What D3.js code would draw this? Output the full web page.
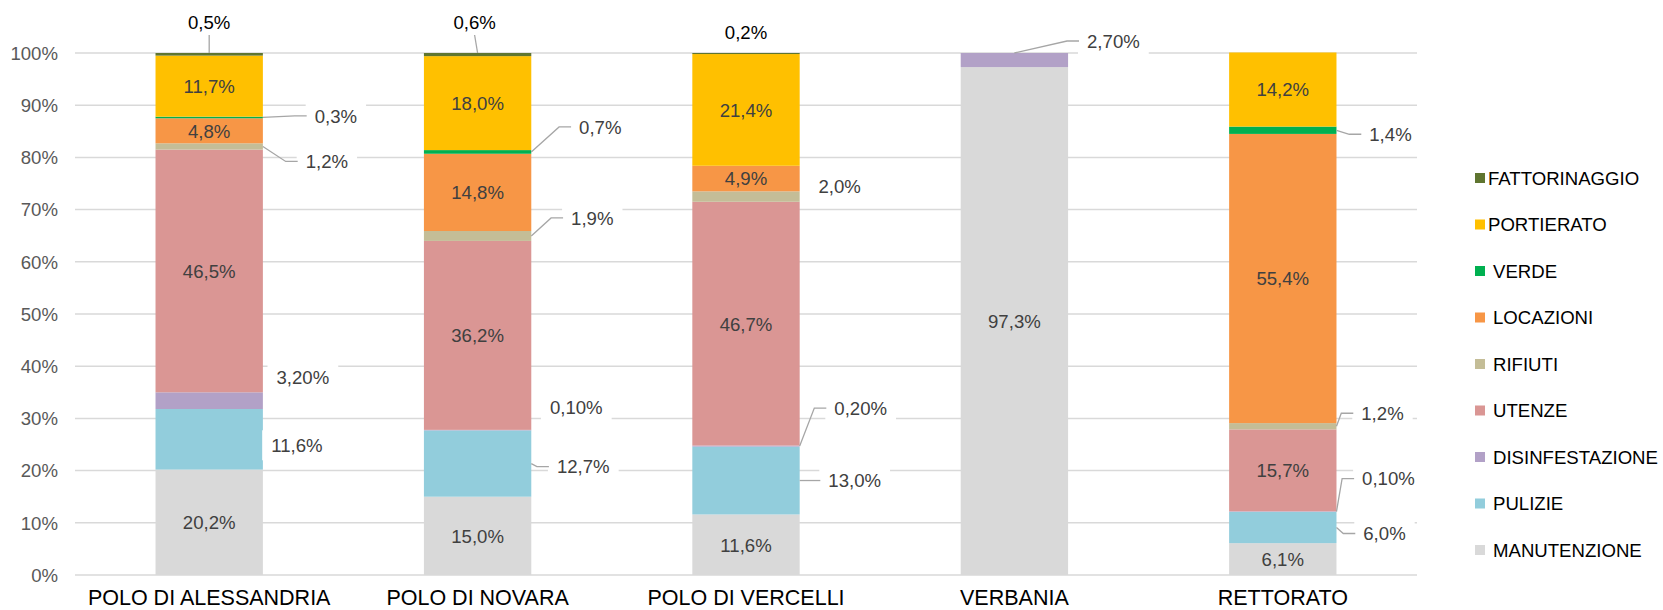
<!DOCTYPE html>
<html>
<head>
<meta charset="utf-8">
<script src="https://cdn.jsdelivr.net/npm/d3@7"></script>
<style>
  body { margin: 0; background: #fff; }
  svg { display: block; font-family: "Liberation Sans", Arial, sans-serif; }
</style>
</head>
<body>
<svg id="chart" width="1663" height="610"></svg>
<script>
// dati (percentuali per sede)
var categories = ["POLO DI ALESSANDRIA", "POLO DI NOVARA", "POLO DI VERCELLI", "VERBANIA", "RETTORATO"];
var series = ["MANUTENZIONE", "PULIZIE", "DISINFESTAZIONE", "UTENZE", "RIFIUTI", "LOCAZIONI", "VERDE", "PORTIERATO", "FATTORINAGGIO"];
var manutenzione    = [20.2, 15.0, 11.6, 97.3, 6.1];
var pulizie         = [11.6, 12.7, 13.0, 0,    6.0];
var disinfestazione = [3.2,  0.1,  0.2,  2.7,  0.1];
var utenze          = [46.5, 36.2, 46.7, 0,    15.7];
var rifiuti         = [1.2,  1.9,  2.0,  0,    1.2];
var locazioni       = [4.8,  14.8, 4.9,  0,    55.4];
var verde           = [0.3,  0.7,  0,    0,    1.4];
var portierato      = [11.7, 18.0, 21.4, 0,    14.2];
var fattorinaggio   = [0.5,  0.6,  0.2,  0,    0];
var yTicks = [0, 10, 20, 30, 40, 50, 60, 70, 80, 90, 100];

var colors = {
	MANUTENZIONE: "#d9d9d9", PULIZIE: "#92cddc", DISINFESTAZIONE: "#b2a1c7",
	UTENZE: "#da9694", RIFIUTI: "#c4bd97", LOCAZIONI: "#f79646",
	VERDE: "#00b050", PORTIERATO: "#ffc000", FATTORINAGGIO: "#5f7530"
};

// etichette esterne: spostamento del testo rispetto al punto di aggancio
var callouts = [
	{cat: 0, key: "FATTORINAGGIO", at: "top", dx: 0, dy: -31, leader: true},
	{cat: 0, key: "VERDE", dx: 73, dy: -1.5, leader: true},
	{cat: 0, key: "RIFIUTI", dx: 64, dy: 15, leader: true},
	{cat: 0, key: "DISINFESTAZIONE", dx: 40, dy: -24, leader: false},
	{cat: 0, key: "PULIZIE", dx: 34, dy: 6, leader: false},
	{cat: 1, key: "FATTORINAGGIO", at: "top", dx: -3, dy: -31, leader: true},
	{cat: 1, key: "VERDE", dx: 69, dy: -25, leader: true},
	{cat: 1, key: "RIFIUTI", dx: 61, dy: -18, leader: true},
	{cat: 1, key: "DISINFESTAZIONE", dx: 45, dy: -23, leader: false},
	{cat: 1, key: "PULIZIE", dx: 52, dy: 3, leader: true},
	{cat: 2, key: "FATTORINAGGIO", at: "top", dx: 0, dy: -21, leader: false},
	{cat: 2, key: "RIFIUTI", dx: 40, dy: -10.5, leader: false},
	{cat: 2, key: "DISINFESTAZIONE", dx: 61, dy: -38, leader: true},
	{cat: 2, key: "PULIZIE", dx: 55, dy: 0, leader: true},
	{cat: 3, key: "DISINFESTAZIONE", at: "top", dx: 99, dy: -12, leader: true},
	{cat: 4, key: "VERDE", dx: 54, dy: 4, leader: true},
	{cat: 4, key: "RIFIUTI", dx: 46, dy: -13, leader: true},
	{cat: 4, key: "DISINFESTAZIONE", dx: 52, dy: -33, leader: true},
	{cat: 4, key: "PULIZIE", dx: 48, dy: 6, leader: true}
];
var outside = ["PULIZIE", "DISINFESTAZIONE", "RIFIUTI", "VERDE", "FATTORINAGGIO"];

var values = {
	MANUTENZIONE: manutenzione, PULIZIE: pulizie, DISINFESTAZIONE: disinfestazione,
	UTENZE: utenze, RIFIUTI: rifiuti, LOCAZIONI: locazioni, VERDE: verde,
	PORTIERATO: portierato, FATTORINAGGIO: fattorinaggio
};
var rows = categories.map(function (c, i) {
	var r = {cat: c};
	series.forEach(function (s) { r[s] = values[s][i]; });
	return r;
});

var it = d3.formatLocale({decimal: ",", thousands: ".", grouping: [3], currency: ["€", ""]});
function label(key, v) {
	return it.format(key == "DISINFESTAZIONE" ? ".2f" : ".1f")(v) + "%";
}

var svg = d3.select("#chart"),
	FONT = 18.6,
	CAT_FONT = 21.5;

var x = d3.scaleBand().domain(categories).range([75, 1417]).paddingInner(0.6).paddingOuter(0.3);
var y = d3.scaleLinear().domain([0, 100]).range([575, 53]);

// griglia e asse y
svg.append("g")
	.selectAll("line")
	.data(yTicks)
	.enter()
	.append("line")
	.attr("x1", 75).attr("x2", 1417)
	.attr("y1", function (d) { return y(d); })
	.attr("y2", function (d) { return y(d); })
	.attr("stroke", "#d9d9d9")
	.attr("stroke-width", 1.5);

svg.append("g")
	.selectAll("text")
	.data(yTicks)
	.enter()
	.append("text")
	.attr("x", 58)
	.attr("y", function (d) { return y(d); })
	.attr("dy", "0.37em")
	.attr("text-anchor", "end")
	.attr("font-size", FONT)
	.attr("fill", "#595959")
	.text(function (d) { return d + "%"; });

svg.append("g")
	.selectAll("text")
	.data(categories)
	.enter()
	.append("text")
	.attr("x", function (d) { return x(d) + x.bandwidth() / 2; })
	.attr("y", 605)
	.attr("text-anchor", "middle")
	.attr("font-size", CAT_FONT)
	.attr("fill", "#000")
	.text(function (d) { return d; });

// barre
var stacked = d3.stack().keys(series)(rows);

svg.append("g")
	.selectAll("g")
	.data(stacked)
	.enter()
	.append("g")
	.attr("fill", function (d) { return colors[d.key]; })
	.selectAll("rect")
	.data(function (d) { return d.filter(function (p) { return p[1] - p[0] > 0; }); })
	.enter()
	.append("rect")
	.attr("x", function (d) { return x(d.data.cat); })
	.attr("width", x.bandwidth())
	.attr("y", function (d) { return y(d[1]); })
	.attr("height", function (d) { return y(d[0]) - y(d[1]); });

// etichette interne
var inner = [];
stacked.forEach(function (layer) {
	if (outside.indexOf(layer.key) != -1) return;
	layer.forEach(function (p) {
		var v = p[1] - p[0];
		if (v > 0) inner.push({key: layer.key, cat: p.data.cat, v: p.data[layer.key], mid: (p[0] + p[1]) / 2});
	});
});

svg.append("g")
	.selectAll("text")
	.data(inner)
	.enter()
	.append("text")
	.attr("x", function (d) { return x(d.cat) + x.bandwidth() / 2; })
	.attr("y", function (d) { return y(d.mid); })
	.attr("dy", "0.37em")
	.attr("text-anchor", "middle")
	.attr("font-size", FONT)
	.attr("fill", "#404040")
	.text(function (d) { return label(d.key, d.v); });

// etichette esterne con linee guida
var leaders = svg.append("g"),
	boxes = svg.append("g");

callouts.forEach(function (c) {
	var layer = stacked[series.indexOf(c.key)],
		p = layer[c.cat],
		cat = categories[c.cat],
		ax, ay;
	if (c.at == "top") {
		ax = x(cat) + x.bandwidth() / 2;
		ay = y(p[1]);
	} else {
		ax = x(cat) + x.bandwidth();
		ay = y((p[0] + p[1]) / 2);
	}
	var lx = ax + c.dx,
		ly = ay + c.dy;

	var g = boxes.append("g");
	var rect = g.append("rect").attr("fill", "#fff");
	var t = g.append("text")
		.attr("x", lx)
		.attr("y", ly)
		.attr("dy", "0.37em")
		.attr("text-anchor", "middle")
		.attr("font-size", FONT)
		.attr("fill", c.key == "FATTORINAGGIO" ? "#000" : "#404040")
		.text(label(c.key, values[c.key][c.cat]));
	var tw = t.node().getComputedTextLength(),
		ts = lx - tw / 2;
	rect.attr("x", ts - 9).attr("y", ly - 15).attr("width", tw + 18).attr("height", 30);

	if (!c.leader) return;
	var d;
	if (c.at == "top" && Math.abs(c.dx) < 20) {
		d = "M" + ax + " " + ay + "L" + lx + " " + (ly + 13);
	} else {
		d = "M" + ax + " " + ay + "L" + (ts - 20) + " " + ly + "H" + (ts - 8);
	}
	leaders.append("path")
		.attr("d", d)
		.attr("fill", "none")
		.attr("stroke", "#a6a6a6")
		.attr("stroke-width", 1.3);
});
leaders.raise();

// legenda
var legend = svg.append("g")
	.selectAll("g")
	.data(series.slice().reverse())
	.enter()
	.append("g")
	.attr("transform", function (d, i) { return "translate(1475," + (178 + i * 46.5) + ")"; });

legend.append("rect")
	.attr("x", 0).attr("y", -5)
	.attr("width", 10).attr("height", 10)
	.attr("fill", function (d) { return colors[d]; });

legend.append("text")
	.attr("x", function (d, i) { return i < 2 ? 13 : 18; })
	.attr("dy", "0.37em")
	.attr("font-size", FONT)
	.attr("fill", "#000")
	.text(function (d) { return d; });
</script>
</body>
</html>
